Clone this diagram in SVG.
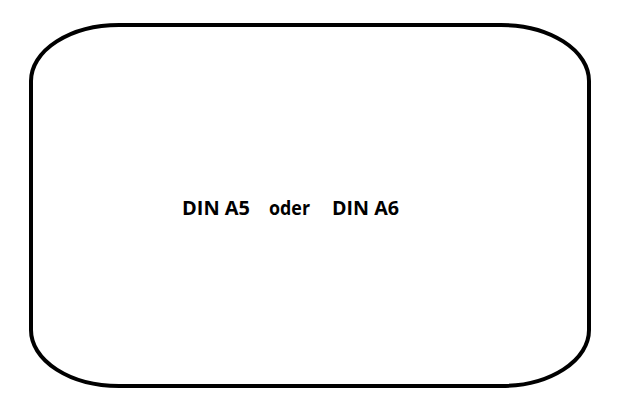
<svg xmlns="http://www.w3.org/2000/svg" width="619" height="413" viewBox="0 0 619 413">
<style>
.box{fill:#fff;stroke:#000;stroke-width:4}
.lbl{font-family:"Open Sans","Liberation Sans",sans-serif;font-weight:bold;font-size:19px;fill:#000}
</style>
<rect width="619" height="413" fill="#fff"/>
<g id="node-format">
<rect class="box" x="31" y="25" width="558" height="361" rx="88" ry="56"/>
<text class="lbl" x="182" y="214.5" textLength="68" lengthAdjust="spacingAndGlyphs">DIN A5</text>
<text class="lbl" x="269" y="214.5" textLength="41" lengthAdjust="spacingAndGlyphs">oder</text>
<text class="lbl" x="332" y="214.5" textLength="67" lengthAdjust="spacingAndGlyphs">DIN A6</text>
</g>
<g id="connectors"></g>
</svg>
